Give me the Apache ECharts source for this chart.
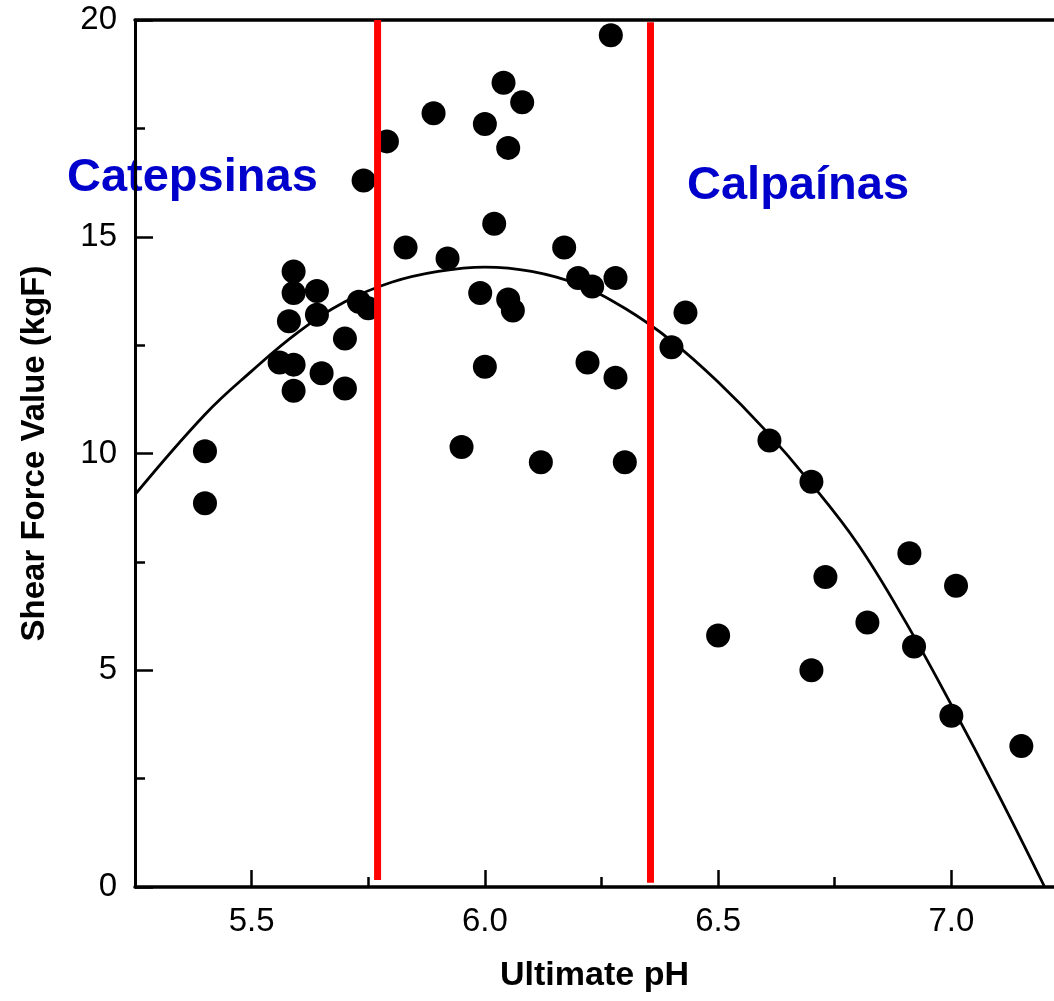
<!DOCTYPE html>
<html>
<head>
<meta charset="utf-8">
<title>Shear force vs ultimate pH</title>
<script src="https://cdn.jsdelivr.net/npm/echarts@6/dist/echarts.min.js"></script>
<style>
  html, body { margin: 0; padding: 0; background: #fff; }
  #chart { width: 1054px; height: 1001px; }
</style>
</head>
<body>
<div id="chart"></div>
<script>
// measured points: [ultimate pH, shear force kgF]
var samples = [
  [5.40, 10.05], [5.40, 8.85], [5.56, 12.1], [5.59, 12.05], [5.59, 11.45],
  [5.65, 11.85], [5.70, 11.5], [5.70, 12.65], [5.59, 14.2], [5.59, 13.7],
  [5.64, 13.75], [5.58, 13.05], [5.64, 13.2], [5.73, 13.5], [5.75, 13.35],
  [5.74, 16.3], [5.79, 17.2], [5.89, 17.85], [6.04, 18.55], [6.08, 18.1],
  [6.00, 17.6], [6.05, 17.05], [6.27, 19.65], [6.02, 15.3], [5.83, 14.75],
  [5.92, 14.5], [6.17, 14.75], [6.20, 14.05], [6.23, 13.85], [6.28, 14.05],
  [5.99, 13.7], [6.05, 13.55], [6.06, 13.3], [6.43, 13.25], [6.40, 12.45],
  [6.00, 12.0], [6.22, 12.1], [6.28, 11.75], [5.95, 10.15], [6.12, 9.8],
  [6.30, 9.8], [6.61, 10.3], [6.50, 5.8], [6.70, 9.35], [6.91, 7.7],
  [6.73, 7.15], [7.01, 6.95], [6.82, 6.1], [6.92, 5.55], [6.70, 5.0],
  [7.00, 3.95], [7.15, 3.25]
]

// fitted curve
var curvePH = [5.25, 5.4, 5.5, 5.6, 5.7, 5.8, 5.9, 6.0, 6.1, 6.2, 6.3, 6.4, 6.5, 6.6, 6.7, 6.8, 6.9, 7.0, 7.1, 7.2]
var curveKgF = [9.05, 10.9, 11.9, 12.8, 13.5, 13.95, 14.2, 14.3, 14.2, 13.9, 13.35, 12.6, 11.65, 10.55, 9.3, 7.9, 6.15, 4.2, 2.15, 0]

// red separators (pH) and their vertical extent
var dividerPH = [5.77, 6.355]
var dividerBottom = [0.16, 0.1]
var dividerTop = [20, 19.95]

var majorTicks = [5.5, 6.0, 6.5, 7.0]
var minorTicks = [5.75, 6.25, 6.75]

var labelFont = 'Liberation Sans, Arial, sans-serif'

var chart = echarts.init(document.getElementById('chart'))

var dividerSeries = dividerPH.map(function (ph, i) {
  return {
    type: 'line',
    data: [[ph, dividerBottom[i]], [ph, dividerTop[i]]],
    symbol: 'none',
    lineStyle: { color: '#ff0000', width: 7 },
    z: 10,
    silent: true
  }
})

chart.setOption({
  backgroundColor: '#fff',
  animation: false,
  grid: { left: 135, right: 0, top: 20, bottom: 114 },
  xAxis: [{
    type: 'value',
    min: 5.25,
    max: 7.22,
    name: 'Ultimate pH',
    nameLocation: 'middle',
    nameGap: 72,
    nameTextStyle: { fontFamily: labelFont, fontWeight: 'bold', fontSize: 34, color: '#000' },
    axisLine: { lineStyle: { color: '#000', width: 3.5 } },
    axisTick: { inside: true, length: 17, customValues: majorTicks, lineStyle: { color: '#000', width: 2.5 } },
    axisLabel: {
      customValues: majorTicks,
      margin: 18,
      fontFamily: labelFont,
      fontSize: 33,
      color: '#000',
      formatter: function (v) { return v.toFixed(1) }
    },
    splitLine: { show: false }
  }, {
    type: 'value',
    min: 5.25,
    max: 7.22,
    position: 'bottom',
    axisLine: { show: false },
    axisTick: { inside: true, length: 10, customValues: minorTicks, lineStyle: { color: '#000', width: 2.5 } },
    axisLabel: { show: false },
    splitLine: { show: false }
  }, {
    type: 'value',
    min: 5.25,
    max: 7.22,
    position: 'top',
    axisLine: { lineStyle: { color: '#000', width: 3.5 } },
    axisTick: { show: false },
    axisLabel: { show: false },
    splitLine: { show: false }
  }],
  yAxis: {
    type: 'value',
    min: 0,
    max: 20,
    interval: 5,
    name: 'Shear Force Value (kgF)',
    nameLocation: 'middle',
    nameRotate: 90,
    nameGap: 84,
    nameTextStyle: { fontFamily: labelFont, fontWeight: 'bold', fontSize: 33, color: '#000' },
    axisLine: { show: true, lineStyle: { color: '#000', width: 3 } },
    axisTick: { show: true, inside: true, length: 18, lineStyle: { color: '#000', width: 2.5 } },
    minorTick: { show: true, splitNumber: 2, length: 10, lineStyle: { color: '#000', width: 2.5 } },
    axisLabel: { margin: 18, fontFamily: labelFont, fontSize: 33, color: '#000' },
    splitLine: { show: false }
  },
  graphic: [{
    type: 'text',
    left: 67,
    top: 155,
    style: { text: 'Catepsinas', fill: '#0000cc', font: 'bold 47px ' + labelFont }
  }, {
    type: 'text',
    left: 687,
    top: 163,
    style: { text: 'Calpaínas', fill: '#0000cc', font: 'bold 47px ' + labelFont }
  }],
  series: [{
    type: 'scatter',
    data: samples,
    symbol: 'circle',
    symbolSize: 24,
    itemStyle: { color: '#000', opacity: 1 },
    z: 3
  }, {
    type: 'line',
    data: curvePH.map(function (ph, i) { return [ph, curveKgF[i]] }),
    smooth: 0.4,
    symbol: 'none',
    lineStyle: { color: '#000', width: 2.8 },
    z: 4
  }].concat(dividerSeries)
})
</script>
</body>
</html>
